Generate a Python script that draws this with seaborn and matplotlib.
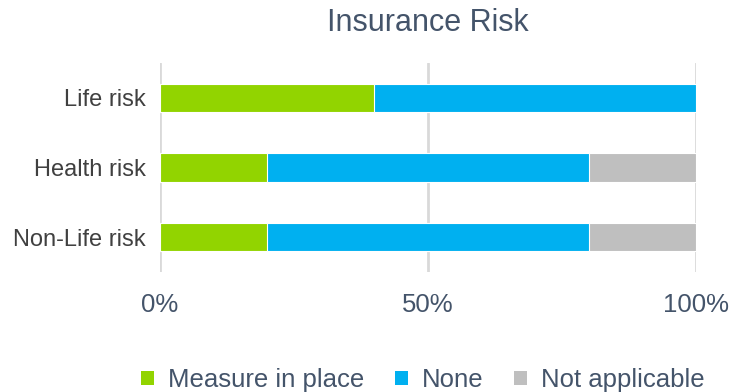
import matplotlib
matplotlib.use("Agg")
import matplotlib.pyplot as plt
from matplotlib.patches import Patch
import seaborn as sns
import pandas as pd
import numpy as np

categories = ["Life risk", "Health risk", "Non-Life risk"]
measure_in_place = [40, 20, 20]
none = [60, 60, 60]
not_applicable = [0, 20, 20]
series_names = ["Measure in place", "None", "Not applicable"]
tick_values = [0, 50, 100]
tick_labels = ["0%", "50%", "100%"]
title = "Insurance Risk"

colors = ["#92D400", "#00B0F0", "#BFBFBF"]
text_blue = "#44546A"
label_dark = "#404040"

sns.set_theme(style="white")
plt.rcParams["font.family"] = ["Liberation Sans", "DejaVu Sans"]

fig = plt.figure(figsize=(7.33, 3.92), dpi=100)
ax = fig.add_axes([160 / 733, 1 - 272 / 392, 536 / 733, 209 / 392])

# stacked bars: draw cumulative totals from the back to the front
m = np.array(measure_in_place)
n = np.array(none)
na = np.array(not_applicable)
layers = [m + n + na, m + n, m]
layer_colors = [colors[2], colors[1], colors[0]]
for totals, c in zip(layers, layer_colors):
    df = pd.DataFrame({"category": categories, "value": totals})
    sns.barplot(data=df, x="value", y="category", orient="h", color=c,
                width=0.41, edgecolor="white", linewidth=0.8,
                saturation=1, ax=ax, zorder=3)

ax.set_xlim(0, 100)
ax.set_ylim(2.5, -0.5)
ax.set_xticks(tick_values)
ax.set_xticklabels(tick_labels)
ax.xaxis.grid(True, color="#D9D9D9", linewidth=2, zorder=0)
ax.yaxis.grid(False)
ax.set_axisbelow(True)
for s in ax.spines.values():
    s.set_visible(False)
ax.set_xlabel("")
ax.set_ylabel("")
ax.tick_params(axis="x", length=0, pad=15, labelsize=18.5, labelcolor=text_blue)
ax.tick_params(axis="y", length=0, pad=10, labelsize=17, labelcolor=label_dark)

fig.text(428 / 733, 1 - 23 / 392, title, ha="center", va="center",
         fontsize=22, color=text_blue)

handles = [Patch(facecolor=c, edgecolor="none") for c in colors]
fig.legend(handles, series_names, loc="center", ncol=3,
           bbox_to_anchor=(423 / 733, 1 - 380 / 392), frameon=False,
           fontsize=18.5, labelcolor=text_blue, handlelength=0.5,
           handleheight=0.5, handletextpad=0.55, columnspacing=1.2,
           borderaxespad=0)

fig.savefig("out.png", dpi=100)
